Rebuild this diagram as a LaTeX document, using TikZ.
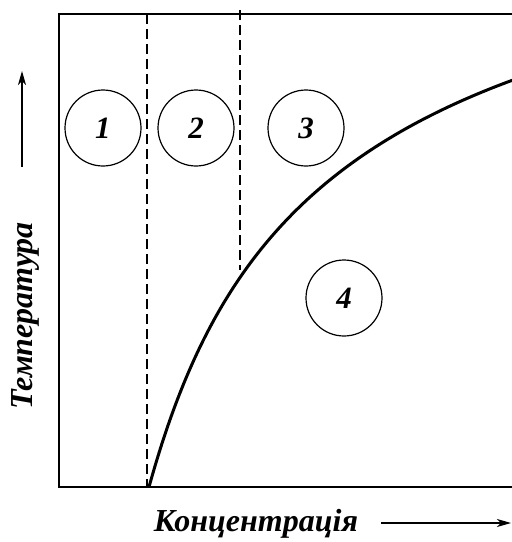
\documentclass[tikz,border=0pt]{standalone}
\usepackage{fontspec}
\setmainfont{Liberation Serif}
\usetikzlibrary{arrows.meta}
\begin{document}
\begin{tikzpicture}[x=1pt,y=-1pt,
  region/.style={circle,draw,line width=1.2pt,minimum size=76pt,inner sep=0pt,font=\fontsize{31}{33}\selectfont\bfseries\itshape},
  axislabel/.style={font=\fontsize{32}{34}\selectfont\bfseries\itshape,inner sep=0pt},
  frame/.style={line width=1.5pt},
  bound/.style={line width=1.2pt,dash pattern=on 10pt off 5pt},
  curveline/.style={line width=3pt},
  axisarrow/.style={line width=1.2pt,-{Stealth[length=14pt,width=8pt,inset=4pt]}}]
\useasboundingbox (0,0) rectangle (512,542);
% frame (open at right)
\coordinate (tl) at (59,14);
\coordinate (tr) at (512,14);
\coordinate (bl) at (59,487);
\coordinate (br) at (512,487);
\draw[frame] (tr) -- (tl) -- (bl) -- (br);
% dashed boundaries
\coordinate (d1t) at (147,14);
\coordinate (d1b) at (147,487);
\coordinate (d2t) at (240,10);
\coordinate (d2b) at (240,270);
\draw[bound] (d1t) -- (d1b);
\draw[bound] (d2t) -- (d2b);
% curve
\coordinate (cs) at (149,487);
\coordinate (ce) at (513,80);
\draw[curveline] (cs) .. controls (203,292) and (290,162) .. (ce);
% regions
\node[region] (c1) at (103,128) {1};
\node[region] (c2) at (196,128) {2};
\node[region] (c3) at (306,128) {3};
\node[region] (c4) at (344,298) {4};
% axis labels
\node[axislabel,rotate=90] (ylab) at (25,316) {Температура};
\node[axislabel,anchor=base] (xlab) at (256,531) {Концентрація};
\coordinate (ya1) at (22,167);
\coordinate (ya2) at (22,71);
\draw[axisarrow] (ya1) -- (ya2);
\coordinate (xa1) at (381,523);
\coordinate (xa2) at (511,523);
\draw[axisarrow] (xa1) -- (xa2);
\end{tikzpicture}
\end{document}
